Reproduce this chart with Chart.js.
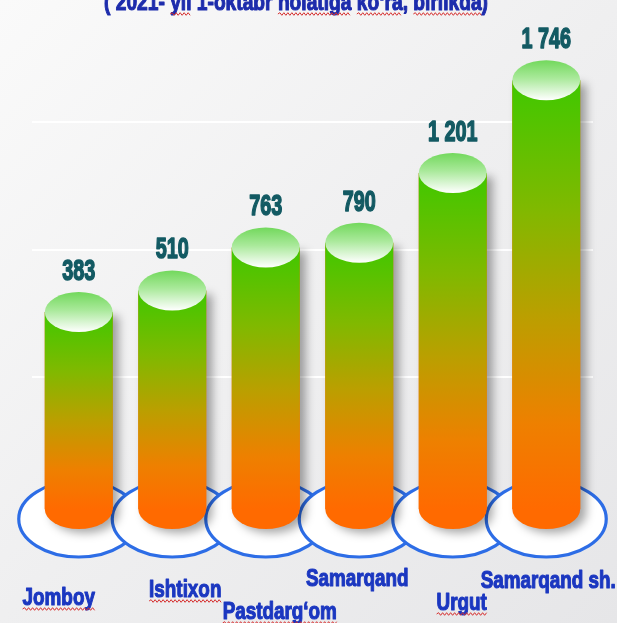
<!DOCTYPE html>
<html>
<head>
<meta charset="utf-8">
<script src="https://cdn.jsdelivr.net/npm/chart.js@4/dist/chart.umd.min.js"></script>
<style>
  html, body { margin: 0; padding: 0; overflow: hidden; background: #efeff0; }
  canvas { display: block; }
</style>
</head>
<body>
<canvas id="chart" width="617" height="623"></canvas>
<script>
// Heading (its upper half runs off the top edge)
const heading = '( 2021- yil 1-oktabr holatiga ko‘ra, birlikda)';
// Districts and number of units in each
const districts = ['Jomboy', 'Ishtixon', 'Pastdarg‘om', 'Samarqand', 'Urgut', 'Samarqand sh.'];
const units = [383, 510, 763, 790, 1201, 1746];
// Faint guide lines of the value axis
const gridValues = [0, 750, 1500];
// Words marked by the spell checker
const headingMarked = ['yil', 'holatiga', 'ko‘ra', 'birlikda'];
const districtMarked = ['Jomboy', 'Ishtixon', 'Pastdarg‘om', 'Urgut'];

// Value axis range (bars rise from the bottom of the axis)
const AXIS_MIN = -775;
const AXIS_MAX = 2000;

// Staggered district captions: x shift from bar centre, baseline y
const captionPlace = [[-20, 605], [13, 597], [14, 619], [-2, 586], [9, 610], [2, 588]];

const CAP_RY = 20;           // half-height of the top/bottom ellipses of a cylinder
const PLATE = { rx: 60, ry: 38, dy: 10 };

function formatUnits(v) {
  return v >= 1000 ? Math.floor(v / 1000) + ' ' + String(v % 1000).padStart(3, '0') : String(v);
}

function bodyGradient(ctx, top, bottom) {
  const g = ctx.createLinearGradient(0, top, 0, bottom);
  g.addColorStop(0, '#3fc800');
  g.addColorStop(0.3, '#80b900');
  g.addColorStop(0.55, '#bb9f00');
  g.addColorStop(0.8, '#ee8000');
  g.addColorStop(1, '#ff6a00');
  return g;
}

function zigzag(ctx, x1, x2, y) {
  ctx.save();
  ctx.strokeStyle = '#d63030';
  ctx.lineWidth = 1;
  ctx.beginPath();
  let up = true;
  ctx.moveTo(x1, y);
  for (let x = x1 + 2; x <= x2; x += 2) {
    ctx.lineTo(x, up ? y - 1.3 : y + 1.3);
    up = !up;
  }
  ctx.stroke();
  ctx.restore();
}

// Heavy text squeezed horizontally by sx, centred at cx; marked words get a wavy underline
function drawText(ctx, text, cx, baseline, font, sx, color, weight, marked) {
  ctx.save();
  ctx.font = font;
  const full = ctx.measureText(text).width * sx;
  const left = cx - full / 2;
  ctx.save();
  ctx.translate(left, baseline);
  ctx.scale(sx, 1);
  ctx.fillStyle = color;
  ctx.strokeStyle = color;
  ctx.lineJoin = 'round';
  ctx.lineWidth = weight;
  ctx.textAlign = 'left';
  ctx.textBaseline = 'alphabetic';
  ctx.fillText(text, 0, 0);
  if (weight > 0) ctx.strokeText(text, 0, 0);
  ctx.restore();
  (marked || []).forEach(word => {
    const i = text.indexOf(word);
    if (i < 0) return;
    const a = left + ctx.measureText(text.slice(0, i)).width * sx;
    const b = a + ctx.measureText(word).width * sx;
    zigzag(ctx, a, b, baseline + 4);
  });
  ctx.restore();
}

const cylinders = {
  id: 'cylinders',
  beforeDraw(chart) {
    const { ctx, width, height } = chart;
    const g = ctx.createLinearGradient(0, 0, width, height);
    g.addColorStop(0, '#fafafa');
    g.addColorStop(0.5, '#efeff0');
    g.addColorStop(1, '#e6e6e8');
    ctx.save();
    ctx.fillStyle = g;
    ctx.fillRect(0, 0, width, height);
    ctx.restore();
  },
  beforeDatasetsDraw(chart) {
    const { ctx } = chart;
    const bars = chart.getDatasetMeta(0).data;
    // plates under the cylinders
    bars.forEach(b => {
      ctx.save();
      ctx.beginPath();
      ctx.ellipse(b.x, b.base + PLATE.dy, PLATE.rx, PLATE.ry, 0, 0, Math.PI * 2);
      ctx.fillStyle = '#ffffff';
      ctx.fill();
      ctx.lineWidth = 3.2;
      ctx.strokeStyle = '#2d6de6';
      ctx.stroke();
      ctx.restore();
    });
    // soft shadow and rounded bottom of each cylinder
    bars.forEach(b => {
      const half = b.width / 2;
      ctx.save();
      ctx.shadowColor = 'rgba(0,0,0,0.35)';
      ctx.shadowBlur = 10;
      ctx.shadowOffsetX = 6;
      ctx.shadowOffsetY = 4;
      ctx.fillStyle = '#ff6a00';
      ctx.beginPath();
      ctx.moveTo(b.x - half, b.y);
      ctx.lineTo(b.x + half, b.y);
      ctx.lineTo(b.x + half, b.base);
      ctx.ellipse(b.x, b.base, half, CAP_RY, 0, 0, Math.PI);
      ctx.closePath();
      ctx.fill();
      ctx.restore();
    });
  },
  afterDatasetsDraw(chart) {
    const { ctx } = chart;
    const bars = chart.getDatasetMeta(0).data;
    bars.forEach((b, i) => {
      const half = b.width / 2;
      // top cap
      const g = ctx.createLinearGradient(0, b.y - CAP_RY, 0, b.y + CAP_RY);
      g.addColorStop(0, '#72d85c');
      g.addColorStop(0.45, '#a9e99a');
      g.addColorStop(1, '#ffffff');
      ctx.save();
      ctx.beginPath();
      ctx.ellipse(b.x, b.y, half, CAP_RY, 0, 0, Math.PI * 2);
      ctx.fillStyle = g;
      ctx.fill();
      ctx.restore();
      // value above the cap
      drawText(ctx, formatUnits(units[i]), b.x, b.y - CAP_RY - 12,
        'bold 30px "Liberation Sans", Arial, sans-serif', 0.66, '#135a63', 1.6);
    });
  },
  afterDraw(chart) {
    const { ctx } = chart;
    const bars = chart.getDatasetMeta(0).data;
    bars.forEach((b, i) => {
      const [dx, base] = captionPlace[i];
      const name = districts[i];
      drawText(ctx, name, b.x + dx, base,
        'bold 23px "Liberation Sans", Arial, sans-serif', 0.82, '#1b37c0', 1.1,
        districtMarked.includes(name) ? [name] : []);
    });
    ctx.save();
    ctx.font = 'bold 24px "Liberation Sans", Arial, sans-serif';
    const w = ctx.measureText(heading).width;
    ctx.restore();
    drawText(ctx, heading, 296, 10, 'bold 24px "Liberation Sans", Arial, sans-serif',
      384 / w, '#1d2cac', 1.1, headingMarked);
  }
};

new Chart(document.getElementById('chart'), {
  type: 'bar',
  data: {
    labels: districts,
    datasets: [{
      data: units,
      base: AXIS_MIN,
      borderWidth: 0,
      barPercentage: 0.727,
      categoryPercentage: 1,
      backgroundColor(c) {
        const ys = c.chart.scales.y;
        if (!ys || c.raw === undefined) return '#ff6a00';
        const top = ys.getPixelForValue(c.raw);
        const bottom = ys.getPixelForValue(ys.min);
        if (!Number.isFinite(top) || !Number.isFinite(bottom) || top === bottom) return '#ff6a00';
        return bodyGradient(c.chart.ctx, top, bottom);
      }
    }]
  },
  options: {
    responsive: false,
    devicePixelRatio: 1,
    animation: false,
    events: [],
    layout: { padding: { top: 37, bottom: 114, left: 32, right: 24 } },
    plugins: { legend: { display: false }, tooltip: { enabled: false }, title: { display: false } },
    scales: {
      x: { display: false },
      y: {
        min: AXIS_MIN,
        max: AXIS_MAX,
        afterBuildTicks: scale => { scale.ticks = gridValues.map(v => ({ value: v })); },
        ticks: { display: false },
        border: { display: false },
        grid: {
          drawTicks: false,
          lineWidth: 2,
          color: 'rgba(255,255,255,0.95)'
        }
      }
    }
  },
  plugins: [cylinders]
});
</script>
</body>
</html>
